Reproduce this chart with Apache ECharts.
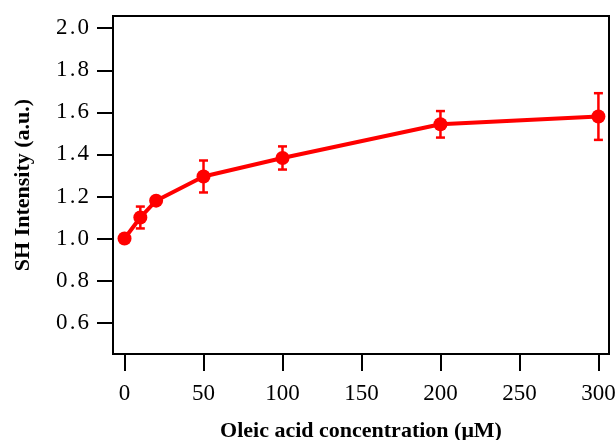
<!DOCTYPE html>
<html>
<head>
<meta charset="utf-8">
<script src="https://cdn.jsdelivr.net/npm/echarts@6/dist/echarts.min.js"></script>
<style>html,body{margin:0;padding:0;background:#fff;}#chart{width:616px;height:440px;}</style>
</head>
<body>
<div id="chart"></div>
<script>
const concentrations = [0, 10, 20, 50, 100, 200, 300];
const intensity = [1.00, 1.10, 1.18, 1.295, 1.383, 1.543, 1.580];
const errors = [0, 0.052, 0, 0.076, 0.055, 0.063, 0.111];
const xTicks = [0, 50, 100, 150, 200, 250, 300];
const yTicks = [0.6, 0.8, 1.0, 1.2, 1.4, 1.6, 1.8, 2.0];
const xTitle = 'Oleic acid concentration (\u03bcM)';
const yTitle = 'SH Intensity (a.u.)';

const points = concentrations.map((c, i) => [c, intensity[i]]);
const errData = concentrations.map((c, i) => [c, intensity[i] - errors[i], intensity[i] + errors[i]]).filter((d, i) => errors[i] > 0);

const labelFont = { fontFamily: 'Liberation Serif', fontSize: 23, color: '#000' };
const nameFont = { fontFamily: 'Liberation Serif', fontSize: 22, fontWeight: 'bold', color: '#000' };

const chart = echarts.init(document.getElementById('chart'));
chart.setOption({
  animation: false,
  backgroundColor: '#fff',
  grid: { left: 113, right: 7, top: 16, bottom: 86, containLabel: false, outerBoundsMode: 'none', show: true, borderColor: '#000', borderWidth: 2, backgroundColor: 'transparent' },
  xAxis: {
    type: 'value', min: -7.3, max: 306.7,
    name: xTitle, nameLocation: 'middle', nameGap: 66, nameTextStyle: nameFont,
    axisLine: { show: true, onZero: false, lineStyle: { color: '#000', width: 2 } },
    axisTick: { show: true, length: 17, lineStyle: { color: '#000', width: 2 }, customValues: xTicks },
    axisLabel: { margin: 28, customValues: xTicks, formatter: v => String(v), ...labelFont },
    splitLine: { show: false }
  },
  yAxis: {
    type: 'value', min: 0.451, max: 2.058,
    name: yTitle, nameLocation: 'middle', nameGap: 79, nameTextStyle: nameFont,
    axisLine: { show: true, onZero: false, lineStyle: { color: '#000', width: 2 } },
    axisTick: { show: true, length: 16, lineStyle: { color: '#000', width: 2 }, customValues: yTicks },
    axisLabel: {
      margin: 24, customValues: yTicks, ...labelFont,
      formatter: v => {
        const parts = Number(v).toFixed(1).split('.');
        return '{d|' + parts[0] + '}{p|.}{d|' + parts[1] + '}';
      },
      rich: {
        d: { fontFamily: 'Liberation Serif', fontSize: 23, color: '#000' },
        p: { fontFamily: 'Liberation Serif', fontSize: 23, color: '#000', width: 10, align: 'left' }
      }
    },
    splitLine: { show: false }
  },
  series: [
    {
      type: 'custom',
      data: errData,
      renderItem: function (params, api) {
        const x = api.value(0);
        const lo = api.coord([x, api.value(1)]);
        const hi = api.coord([x, api.value(2)]);
        const hw = 4.5;
        const style = { stroke: '#ff0000', lineWidth: 2.5, fill: null };
        return {
          type: 'group',
          children: [
            { type: 'line', shape: { x1: lo[0], y1: lo[1], x2: hi[0], y2: hi[1] }, style: style },
            { type: 'line', shape: { x1: lo[0] - hw, y1: lo[1], x2: lo[0] + hw, y2: lo[1] }, style: style },
            { type: 'line', shape: { x1: hi[0] - hw, y1: hi[1], x2: hi[0] + hw, y2: hi[1] }, style: style }
          ]
        };
      },
      z: 2
    },
    {
      type: 'line',
      data: points,
      symbol: 'circle',
      symbolSize: 14,
      lineStyle: { color: '#ff0000', width: 4 },
      itemStyle: { color: '#ff0000' },
      z: 3
    }
  ]
});
</script>
</body>
</html>
